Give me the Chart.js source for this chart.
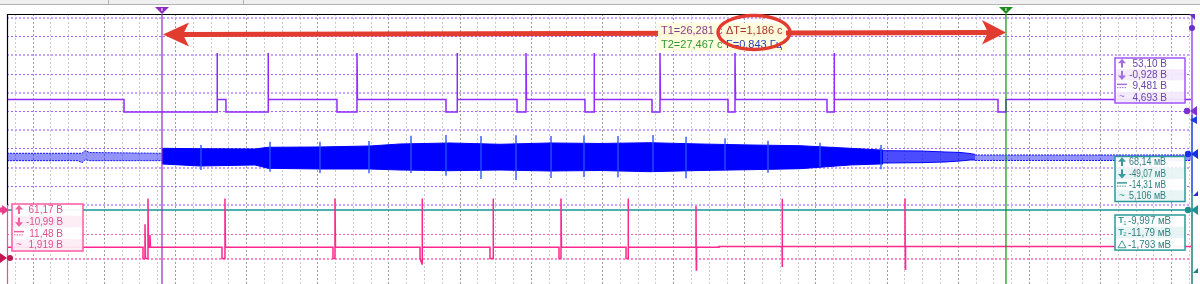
<!DOCTYPE html>
<html>
<head>
<meta charset="utf-8">
<title>Осциллограмма</title>
<script src="https://cdn.jsdelivr.net/npm/chart.js@4.4.1/dist/chart.umd.min.js"></script>
<style>
  html, body { margin: 0; padding: 0; background: #fff; }
  #scope { display: block; }
</style>
</head>
<body>
<canvas id="scope" width="1200" height="284"></canvas>
<script>
// time window and cursors, seconds
const tMin = 26.0632
const tMax = 27.7270
const cursorT1 = 26.281
const cursorT2 = 27.467

// channel A (violet), volts
const chA_t = [
  26.0632, 26.2276,
  26.2276, 26.3583, 26.3583, 26.3590,
  26.3709, 26.3709, 26.4300, 26.4300, 26.4307,
  26.5269, 26.5269, 26.5550, 26.5550, 26.5557,
  26.6801, 26.6801, 26.6956, 26.6956, 26.6963,
  26.7799, 26.7799, 26.7925, 26.7925, 26.7932,
  26.8754, 26.8754, 26.8881, 26.8881, 26.8888,
  26.9696, 26.9696, 26.9808, 26.9808, 26.9815,
  27.0764, 27.0764, 27.0862, 27.0862, 27.0869,
  27.2155, 27.2155, 27.2254, 27.2254, 27.2261,
  27.4558, 27.4558, 27.4671, 27.4671,
  27.7270
]
const chA_v = [
  11.0, 11.0,
  -0.5, -0.5, 53.1, 11.0,
  11.0, -0.5, -0.5, 53.1, 11.0,
  11.0, -0.5, -0.5, 53.1, 11.0,
  11.0, -0.5, -0.5, 53.1, 11.0,
  11.0, -0.5, -0.5, 53.1, 11.0,
  11.0, -0.5, -0.5, 53.1, 11.0,
  11.0, -0.5, -0.5, 53.1, 11.0,
  11.0, -0.5, -0.5, 53.1, 11.0,
  11.0, -0.5, -0.5, 53.1, 11.0,
  11.0, -0.5, -0.5, 11.0,
  11.0
]

// channel B (pink), volts
const chB_t = [
  26.0632, 26.2543, 26.2543, 26.2571, 26.2571, 26.2578, 26.2613, 26.2613, 26.2620, 26.2641, 26.2641, 26.2648,
  26.3653, 26.3653, 26.3695, 26.3695, 26.3702,
  26.5213, 26.5213, 26.5241, 26.5241, 26.5248,
  26.6436, 26.6436, 26.6464, 26.6464, 26.6471,
  26.7419, 26.7419, 26.7462, 26.7462, 26.7469,
  26.8389, 26.8389, 26.8417, 26.8417, 26.8424,
  26.9331, 26.9331, 26.9359, 26.9359, 26.9366,
  27.0314, 27.0314, 27.0318, 27.0322,
  27.0637, 27.0637,
  27.1523, 27.1523, 27.1527, 27.1531,
  27.3251, 27.3251, 27.3255, 27.3259,
  27.7270
]
const chB_v = [
  11.4, 11.4, 0, 0, 35, 0, 0, 61.2, 11.4, 11.4, 24, 11.4,
  11.4, 0, 0, 61.2, 11.4,
  11.4, 0, 0, 61.2, 11.4,
  11.4, 0, -5.6, 61.2, 11.4,
  11.4, 0, 0, 61.2, 11.4,
  11.4, 0, 0, 61.2, 11.4,
  11.4, 0, 0, 61.2, 11.4,
  11.4, 53.6, -11.7, 11.4,
  11.4, 12.2,
  12.2, 61.0, -8.7, 12.2,
  12.2, 61.2, -11.0, 12.2,
  12.2
]

// channel C (blue), mV - envelope of the oscillation
const blueLeftT = [26.0632, 26.1630, 26.1686, 26.1728, 26.1798, 26.2810]
const blueLeftHi = [20.0, 20.0, 20.0, 26.8, 22.0, 20.0]
const blueLeftLo = [0.8, 0.8, -4.4, 3.0, 0.8, 0.8]

const blueDenseT = [26.2810, 26.3344, 26.4117, 26.4300, 26.5030, 26.5733, 26.6155, 26.6857, 26.7560,
  26.8263, 26.8965, 26.9668, 27.0370, 27.1073, 27.1776, 27.2478, 27.2900, 27.2942]
const blueDenseHi = [33.0, 31.9, 31.2, 35.6, 36.4, 39.0, 44.2, 46.8, 43.4,
  46.8, 45.5, 47.5, 44.2, 41.6, 39.7, 33.0, 28.6, 28.6]
const blueDenseLo = [-7.8, -13.0, -10.4, -19.0, -20.8, -20.8, -23.4, -25.2, -23.4,
  -26.0, -24.7, -27.8, -24.7, -22.6, -20.0, -10.4, -7.8, -7.8]

const blueMidT = [27.2942, 27.3462, 27.3813, 27.4024, 27.4165, 27.4235]
const blueMidHi = [26.8, 26.0, 23.4, 22.1, 19.5, 16.9]
const blueMidLo = [-5.2, -4.4, -2.6, 0.0, 2.6, 2.6]

const blueRightT = [27.4235, 27.7270]
const blueRightHi = [15.6, 15.6]
const blueRightLo = [1.3, 1.3]

const blueSpikeT = [26.3358, 26.4328, 26.5030, 26.5719, 26.6309, 26.6801, 26.7293, 26.7785, 26.8277,
  26.8740, 26.9218, 26.9710, 27.0174, 27.0722, 27.1326, 27.2057, 27.2914]
const blueSpikeHi = [41.6, 50.1, 50.1, 51.9, 65.7, 67.5, 64.9, 66.8, 64.9, 66.2, 64.9, 67.5, 63.1, 59.0, 52.7, 47.5, 41.6]
const blueSpikeLo = [-23.4, -27.8, -31.2, -31.9, -31.2, -38.2, -46.8, -49.4, -44.2, -41.6, -42.9, -27.8, -45.0, -23.4, -30.4, -14.8, -21.6]

// horizontal cursor level (teal), mV
const tealLevel = -127.3

// measurement read-outs
const statsA = ['53,10 В', '-0,928 В', '9,481 В', '4,693 В']
const statsC = ['68,14 мВ', '-49,07 мВ', '-14,31 мВ', '5,106 мВ']
const statsCur = ['-9,997 мВ', '-11,79 мВ', '-1,793 мВ']
const statsB = ['61,17 В', '-10,99 В', '11,48 В', '1,919 В']
const cursorText = ['T1=26,281 с', 'ΔT=1,186 с', 'T2=27,467 с', 'F=0,843 Гц']

const pts = (ts, vs) => ts.map((t, i) => ({x: t, y: vs[i]}))

const spikePts = blueSpikeT.flatMap((t, i) => [
  {x: t, y: blueSpikeHi[i]}, {x: t, y: blueSpikeLo[i]}, {x: t, y: null}
])

const FONT = '"Liberation Sans", Arial, sans-serif'

function pinRight(ctx, x, y, color) {
  ctx.fillStyle = color
  ctx.beginPath()
  ctx.arc(x - 3, y, 3.2, 0, Math.PI * 2)
  ctx.fill()
  ctx.beginPath()
  ctx.moveTo(x, y)
  ctx.lineTo(x + 7, y - 5)
  ctx.lineTo(x + 7, y + 5)
  ctx.closePath()
  ctx.fill()
}

function icon(ctx, kind, x, cy, color) {
  ctx.save()
  ctx.fillStyle = color
  ctx.strokeStyle = color
  if (kind === 'up' || kind === 'down') {
    const s = kind === 'up' ? 1 : -1
    ctx.beginPath()
    ctx.moveTo(x - 4, cy - s * 0.5)
    ctx.lineTo(x + 4, cy - s * 0.5)
    ctx.lineTo(x, cy - s * 5)
    ctx.closePath()
    ctx.fill()
    ctx.fillRect(x - 1, kind === 'up' ? cy - 1 : cy - 4, 2, 5)
  } else if (kind === 'mean') {
    ctx.fillRect(x - 5, cy - 2.5, 10, 1.5)
    ctx.setLineDash([1.5, 1])
    ctx.lineWidth = 1
    ctx.beginPath()
    ctx.moveTo(x - 5, cy + 1.5)
    ctx.lineTo(x + 5, cy + 1.5)
    ctx.stroke()
  } else if (kind === 'rms') {
    ctx.font = '10px ' + FONT
    ctx.textAlign = 'center'
    ctx.textBaseline = 'middle'
    ctx.fillText('~', x, cy)
  } else if (kind === 't1' || kind === 't2') {
    ctx.font = 'bold 9px ' + FONT
    ctx.textAlign = 'center'
    ctx.textBaseline = 'middle'
    ctx.fillText('T', x - 1, cy)
    ctx.font = '6px ' + FONT
    ctx.fillText(kind === 't1' ? '1' : '2', x + 3, cy + 2)
  } else if (kind === 'delta') {
    ctx.lineWidth = 1
    ctx.beginPath()
    ctx.moveTo(x - 4, cy + 3.5)
    ctx.lineTo(x + 4, cy + 3.5)
    ctx.lineTo(x, cy - 3.5)
    ctx.closePath()
    ctx.stroke()
  }
  ctx.restore()
}

function statBox(ctx, o) {
  const h = o.rowH * o.rows.length
  ctx.save()
  o.rows.forEach((txt, i) => {
    ctx.fillStyle = i % 2 === 0 ? 'rgba(255,255,255,0.94)' : o.alt
    ctx.fillRect(o.x, o.y + i * o.rowH, o.w, o.rowH)
    const cy = o.y + i * o.rowH + o.rowH / 2
    icon(ctx, o.icons[i], o.x + 7, cy, o.iconColor)
    ctx.fillStyle = o.text
    ctx.font = '10px ' + FONT
    ctx.textBaseline = 'middle'
    ctx.textAlign = o.align
    ctx.fillText(txt, o.x + o.tx, cy + 0.5, o.maxW)
  })
  ctx.strokeStyle = o.border
  ctx.lineWidth = 1.5
  ctx.strokeRect(o.x, o.y, o.w, h)
  ctx.restore()
}

const overlay = {
  id: 'overlay',
  beforeDraw(chart) {
    const ctx = chart.ctx
    ctx.save()
    ctx.fillStyle = '#efefef'
    ctx.fillRect(0, 0, 1200, 4)
    ctx.strokeStyle = '#b4b4b4'
    ctx.lineWidth = 1
    ctx.beginPath()
    ctx.moveTo(0, 4.5); ctx.lineTo(1200, 4.5)
    ctx.moveTo(108.5, 0); ctx.lineTo(108.5, 4)
    ctx.moveTo(243.5, 0); ctx.lineTo(243.5, 4)
    ctx.stroke()
    ctx.restore()
  },
  afterDatasetsDraw(chart) {
    const {ctx, chartArea: a, scales} = chart
    const x1 = scales.x.getPixelForValue(cursorT1)
    const x2 = scales.x.getPixelForValue(cursorT2)
    ctx.save()

    // frame
    ctx.lineWidth = 1.2
    ctx.strokeStyle = '#000'
    ctx.beginPath()
    ctx.moveTo(a.left, a.top + 0.5); ctx.lineTo(a.right, a.top + 0.5)
    ctx.moveTo(a.left + 0.5, a.top); ctx.lineTo(a.left + 0.5, 205)
    ctx.stroke()
    ctx.strokeStyle = '#f04a98'
    ctx.beginPath()
    ctx.moveTo(a.left + 0.5, 205); ctx.lineTo(a.left + 0.5, a.bottom)
    ctx.stroke()
    const re = a.right + 1
    ctx.lineWidth = 1.5
    ;[['#9a4cf5', a.top, 115], ['#1f3be0', 115, 193], ['#1e7f80', 193, a.bottom]].forEach(s => {
      ctx.strokeStyle = s[0]
      ctx.beginPath()
      ctx.moveTo(re, s[1]); ctx.lineTo(re, s[2])
      ctx.stroke()
    })

    // time cursors
    ctx.lineWidth = 1.2
    ctx.strokeStyle = 'rgb(150,40,190)'
    ctx.beginPath(); ctx.moveTo(x1, a.top); ctx.lineTo(x1, a.bottom); ctx.stroke()
    ctx.strokeStyle = 'rgb(20,140,20)'
    ctx.beginPath(); ctx.moveTo(x2, a.top); ctx.lineTo(x2, a.bottom); ctx.stroke()
    ;[[x1, '#8e2bc0'], [x2, '#1c8c1c']].forEach(m => {
      ctx.fillStyle = m[1]
      ctx.beginPath()
      ctx.moveTo(m[0] - 7, 7); ctx.lineTo(m[0] + 7, 7); ctx.lineTo(m[0], 14)
      ctx.closePath(); ctx.fill()
      ctx.fillStyle = '#fff'
      ctx.fillRect(m[0] - 0.5, 8, 1, 3)
    })

    // red double arrow between cursors
    const red = '#e23b2f'
    const yL = 34.5, yR = 32.5
    ctx.strokeStyle = red
    ctx.fillStyle = red
    ctx.lineWidth = 5
    ctx.beginPath()
    ctx.moveTo(x1 + 20, yL); ctx.lineTo(x2 - 18, yR)
    ctx.stroke()
    ctx.beginPath()
    ctx.moveTo(x1 + 1, yL); ctx.lineTo(x1 + 27, yL - 12); ctx.lineTo(x1 + 21, yL); ctx.lineTo(x1 + 27, yL + 12)
    ctx.closePath(); ctx.fill()
    ctx.beginPath()
    ctx.moveTo(x2, yR); ctx.lineTo(x2 - 24, yR - 12.5); ctx.lineTo(x2 - 18, yR); ctx.lineTo(x2 - 24, yR + 12)
    ctx.closePath(); ctx.fill()

    // cursor read-out
    ctx.fillStyle = 'rgba(255,255,222,0.95)'
    ctx.fillRect(658, 23, 128, 28)
    ctx.font = '11px ' + FONT
    ctx.textBaseline = 'middle'
    ctx.textAlign = 'left'
    ctx.fillStyle = '#8a3c8a'; ctx.fillText(cursorText[0], 661, 31)
    ctx.fillStyle = '#a5352a'; ctx.fillText(cursorText[1], 726, 31)
    ctx.fillStyle = '#2f9a2f'; ctx.fillText(cursorText[2], 661, 44.5)
    ctx.fillStyle = '#2a3db5'; ctx.fillText(cursorText[3], 726, 44.5)

    ctx.strokeStyle = red
    ctx.lineWidth = 3.5
    ctx.beginPath()
    ctx.ellipse(754, 32.5, 36, 17, 0, 0, Math.PI * 2)
    ctx.stroke()

    // measurement boxes
    statBox(ctx, {x: 1115, y: 58, w: 70, rowH: 11.25, rows: statsA, icons: ['up', 'down', 'mean', 'rms'],
      border: '#a055ff', alt: 'rgba(243,235,252,0.94)', text: '#6a44a8', iconColor: '#a070e0',
      align: 'right', tx: 52, maxW: 42})
    statBox(ctx, {x: 1115, y: 156.5, w: 70, rowH: 11.25, rows: statsC, icons: ['up', 'down', 'mean', 'rms'],
      border: '#2a9a9a', alt: 'rgba(232,244,244,0.94)', text: '#2d7f7f', iconColor: '#3a9a9a',
      align: 'right', tx: 51, maxW: 37})
    statBox(ctx, {x: 1115, y: 215, w: 70, rowH: 11.7, rows: statsCur, icons: ['t1', 't2', 'delta'],
      border: '#2a9a9a', alt: 'rgba(232,244,244,0.94)', text: '#2d7f7f', iconColor: '#3a9a9a',
      align: 'left', tx: 13, maxW: 43})
    statBox(ctx, {x: 12, y: 204, w: 71, rowH: 11.75, rows: statsB, icons: ['up', 'down', 'mean', 'rms'],
      border: '#ff5aa5', alt: 'rgba(253,236,244,0.94)', text: '#e0508f', iconColor: '#f0609f',
      align: 'right', tx: 51, maxW: 37})

    // channel markers
    ctx.fillStyle = '#6a2fc8'
    ctx.beginPath(); ctx.arc(re, 28, 3, 0, Math.PI * 2); ctx.fill()
    ctx.beginPath(); ctx.moveTo(re - 3, 14); ctx.lineTo(re + 3, 14); ctx.lineTo(re + 3, 20); ctx.closePath(); ctx.fill()
    pinRight(ctx, 1190, 111, '#7a32d0')
    ctx.fillStyle = '#1f3be0'
    ctx.beginPath(); ctx.moveTo(re - 2, 120); ctx.lineTo(re + 5, 116); ctx.lineTo(re + 5, 124); ctx.closePath(); ctx.fill()
    pinRight(ctx, 1191, 154, '#1530e0')
    ctx.fillStyle = '#2a2acc'
    ctx.beginPath(); ctx.moveTo(re + 1, 196); ctx.lineTo(re + 6, 191); ctx.lineTo(re + 6, 196); ctx.closePath(); ctx.fill()
    pinRight(ctx, 1191, 210, '#1f8f8f')
    ctx.fillStyle = '#1f7f7f'
    ctx.beginPath(); ctx.moveTo(re + 1, 273); ctx.lineTo(re + 6, 268); ctx.lineTo(re + 6, 273); ctx.closePath(); ctx.fill()

    ctx.fillStyle = '#e83e8c'
    ctx.fillRect(0, 207.5, 3, 5)
    ctx.beginPath(); ctx.moveTo(2, 205); ctx.lineTo(9, 210); ctx.lineTo(2, 215); ctx.closePath(); ctx.fill()
    ctx.fillStyle = '#c0184f'
    ctx.beginPath(); ctx.moveTo(0, 253); ctx.lineTo(7, 258); ctx.lineTo(0, 263); ctx.closePath(); ctx.fill()
    ctx.beginPath(); ctx.arc(10, 258, 3, 0, Math.PI * 2); ctx.fill()

    ctx.restore()
  }
}

const sparse = {
  borderColor: 'rgba(0,0,255,0.9)', borderWidth: 1, borderDash: [2, 1],
  backgroundColor: 'rgba(0,0,255,0.42)', yAxisID: 'yC'
}

new Chart(document.getElementById('scope'), {
  type: 'line',
  data: {
    datasets: [
      {label: 'B', data: pts(chB_t, chB_v), yAxisID: 'yB', borderColor: 'rgb(255,40,140)', borderWidth: 1.5},
      {label: 'A', data: pts(chA_t, chA_v), yAxisID: 'yA', borderColor: 'rgb(145,45,250)', borderWidth: 1.5},
      {label: 'C spikes', data: spikePts, yAxisID: 'yC', borderColor: 'rgba(40,80,255,0.9)', borderWidth: 1.5, spanGaps: false},
      {label: 'C hi', data: pts(blueDenseT, blueDenseHi), yAxisID: 'yC', borderColor: '#0000ff', borderWidth: 1},
      {label: 'C lo', data: pts(blueDenseT, blueDenseLo), yAxisID: 'yC', borderColor: '#0000ff', borderWidth: 1,
        fill: '-1', backgroundColor: '#0000ff'},
      {label: 'C mid hi', data: pts(blueMidT, blueMidHi), yAxisID: 'yC', borderColor: '#0000ff', borderWidth: 1},
      {label: 'C mid lo', data: pts(blueMidT, blueMidLo), yAxisID: 'yC', borderColor: '#0000ff', borderWidth: 1,
        fill: '-1', backgroundColor: 'rgba(0,0,255,0.7)'},
      {label: 'C left hi', data: pts(blueLeftT, blueLeftHi), ...sparse},
      {label: 'C left lo', data: pts(blueLeftT, blueLeftLo), ...sparse, fill: '-1'},
      {label: 'C right hi', data: pts(blueRightT, blueRightHi), ...sparse},
      {label: 'C right lo', data: pts(blueRightT, blueRightLo), ...sparse, fill: '-1'},
      {label: 'level', data: [{x: tMin, y: tealLevel}, {x: tMax, y: tealLevel}], yAxisID: 'yC',
        borderColor: 'rgb(20,150,150)', borderWidth: 1.5}
    ]
  },
  options: {
    responsive: false,
    animation: false,
    elements: {point: {radius: 0}, line: {tension: 0, fill: false}},
    layout: {padding: {left: 7, right: 9, top: 14, bottom: 0}},
    plugins: {legend: {display: false}, tooltip: {enabled: false}},
    scales: {
      x: {
        type: 'linear', min: tMin, max: tMax,
        ticks: {display: false, stepSize: 0.025, includeBounds: false},
        grid: {
          drawTicks: false,
          color: c => Math.round(c.tick.value * 1000) % 100 === 0 ? 'rgba(140,140,140,0.85)' : 'rgba(195,195,195,0.85)'
        },
        border: {display: false, dash: [2, 2]}
      },
      yA: {
        position: 'left', min: -156.8, max: 88.6,
        ticks: {display: false, stepSize: 17, includeBounds: false},
        grid: {
          drawTicks: false,
          color: c => {
            const k = Math.round(c.tick.value / 17)
            if (k < -5 || k > 5) return 'rgba(0,0,0,0)'
            return k % 2 !== 0 ? 'rgba(190,150,255,0.85)' : 'rgba(160,90,255,0.95)'
          },
          lineWidth: c => Math.round(c.tick.value / 17) % 2 !== 0 ? 2 : 1
        },
        border: {display: false, dash: [2, 2]}
      },
      yB: {
        position: 'left', min: -26.0, max: 249.5,
        ticks: {display: false, stepSize: 25, includeBounds: false},
        grid: {
          drawTicks: false,
          color: c => {
            const k = Math.round(c.tick.value / 25)
            if (k === 0) return 'rgba(255,130,190,0.9)'
            if (k === 1 || k === -1) return 'rgba(255,80,160,0.9)'
            return 'rgba(0,0,0,0)'
          },
          lineWidth: c => Math.round(c.tick.value / 25) === 0 ? 2 : 1
        },
        border: {display: false, dash: [2, 2]}
      },
      yC: {display: false, min: -319.5, max: 381.8}
    }
  },
  plugins: [overlay]
})
</script>
</body>
</html>
